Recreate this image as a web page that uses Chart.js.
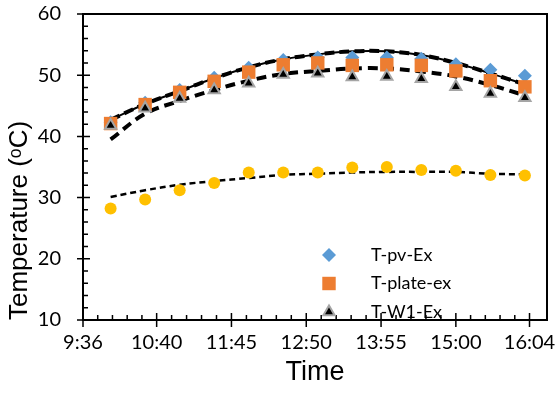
<!DOCTYPE html>
<html>
<head>
<meta charset="utf-8">
<script src="https://cdn.jsdelivr.net/npm/chart.js@4.4.0/dist/chart.umd.min.js"></script>
<style>
  html, body { margin: 0; padding: 0; background: #fff; }
</style>
</head>
<body>
<canvas id="myChart" width="558" height="398"></canvas>
<script>
// measurement times (every 30 min)
const times = ["10:00", "10:30", "11:00", "11:30", "12:00", "12:30", "13:00",
               "13:30", "14:00", "14:30", "15:00", "15:30", "16:00"];

const tPv    = [42.3, 45.5, 47.6, 49.6, 51.2, 52.5, 52.9, 52.9, 52.9, 52.7, 51.8, 50.9, 49.9];
const tPlate = [42.1, 45.2, 47.2, 49.0, 50.5, 51.7, 52.0, 51.6, 51.7, 51.6, 50.7, 49.1, 48.1];
const tW1    = [41.8, 44.6, 46.2, 47.6, 48.7, 50.1, 50.3, 49.7, 49.8, 49.4, 48.1, 47.0, 46.3];
const tAmb   = [28.2, 29.7, 31.2, 32.4, 34.1, 34.1, 34.1, 34.9, 35.0, 34.5, 34.4, 33.7, 33.6];

// trend lines
const trendTop   = [42.7, 45.3, 47.4, 49.5, 51.3, 52.6, 53.4, 53.9, 53.9, 53.3, 52.0, 50.3, 48.5];
const trendMid   = [39.5, 43.7, 45.8, 47.6, 49.1, 50.2, 50.7, 51.1, 51.1, 50.6, 49.8, 48.4, 46.7];
const trendAmb   = [30.1, 31.2, 32.1, 32.7, 33.2, 33.7, 33.9, 34.1, 34.2, 34.2, 34.2, 33.9, 33.8];

const xTickLabels = ["9:36", "10:40", "11:45", "12:50", "13:55", "15:00", "16:04"];
const yTicks = [10, 20, 30, 40, 50, 60];
const seriesNames = ["T-pv-Ex", "T-plate-ex", "T-W1-Ex"];

function toMin(t) {
  const p = t.split(":");
  return Number(p[0]) * 60 + Number(p[1]);
}
const xs = times.map(toMin);
const pts = arr => arr.map((v, i) => ({ x: xs[i], y: v }));

function fmt(v) {
  const m = Math.floor(v + 0.001);
  return Math.floor(m / 60) + ":" + String(m % 60).padStart(2, "0");
}

// cross ticks (major) + inside ticks (minor), plus top/right frame
const axisMarks = {
  id: "axisMarks",
  afterDraw(chart) {
    const { ctx, chartArea: a } = chart;
    const sx = chart.scales.x, sy = chart.scales.y;
    ctx.save();
    ctx.strokeStyle = "#000";
    ctx.lineWidth = 2;
    ctx.beginPath();
    ctx.moveTo(a.left, a.top);
    ctx.lineTo(a.right, a.top);
    ctx.lineTo(a.right, a.bottom);
    ctx.stroke();

    ctx.lineWidth = 1.5;
    ctx.beginPath();
    const xv = sx.ticks.map(t => t.value);
    xv.forEach((v, i) => {
      const px = sx.getPixelForValue(v);
      ctx.moveTo(px, a.bottom - 7);
      ctx.lineTo(px, a.bottom + 7);
      if (i < xv.length - 1) {
        const step = (xv[i + 1] - v) / 5;
        for (let k = 1; k < 5; k++) {
          const mx = sx.getPixelForValue(v + k * step);
          ctx.moveTo(mx, a.bottom);
          ctx.lineTo(mx, a.bottom - 5);
        }
      }
    });
    const yv = sy.ticks.map(t => t.value);
    yv.forEach((v, i) => {
      const py = sy.getPixelForValue(v);
      ctx.moveTo(a.left - 6, py);
      ctx.lineTo(a.left + 7, py);
      if (i < yv.length - 1) {
        const step = (yv[i + 1] - v) / 5;
        for (let k = 1; k < 5; k++) {
          const my = sy.getPixelForValue(v + k * step);
          ctx.moveTo(a.left, my);
          ctx.lineTo(a.left + 5, my);
        }
      }
    });
    ctx.stroke();
    ctx.restore();
  }
};

// legend box inside the plot
const legendBox = {
  id: "legendBox",
  afterDraw(chart) {
    const ctx = chart.ctx;
    const rows = [255, 283.5, 312];
    ctx.save();
    ctx.font = "18px Lato";
    ctx.textBaseline = "middle";
    seriesNames.forEach((name, i) => {
      const ds = chart.data.datasets[2 - i];
      ctx.fillStyle = ds.backgroundColor;
      ctx.strokeStyle = ds.borderColor || ds.backgroundColor;
      ctx.lineWidth = ds.pointBorderWidth || 0;
      Chart.helpers.drawPoint(ctx, {
        pointStyle: ds.pointStyle,
        radius: ds.pointRadius,
        borderWidth: ds.pointBorderWidth || 0,
        rotation: 0
      }, 329, rows[i]);
      ctx.fillStyle = "#000";
      ctx.fillText(name, 371, rows[i]);
    });
    ctx.restore();
  }
};

const trend = (data, width, dash, order) => ({
  type: "line",
  data: pts(data),
  borderColor: "#000",
  borderWidth: width,
  borderDash: dash,
  pointRadius: 0,
  tension: 0.4,
  fill: false,
  order: order
});

new Chart("myChart", {
  type: "scatter",
  data: {
    datasets: [
      { label: seriesNames[2], data: pts(tW1), pointStyle: "triangle", pointRadius: 6.5,
        backgroundColor: "#000", borderColor: "#a5a5a5", pointBorderWidth: 2, borderWidth: 2, order: 1 },
      { label: seriesNames[1], data: pts(tPlate), pointStyle: "rect", pointRadius: 9.5,
        backgroundColor: "#ed7d31", borderColor: "#ed7d31", pointBorderWidth: 0, borderWidth: 0, order: 2 },
      { label: seriesNames[0], data: pts(tPv), pointStyle: "rectRot", pointRadius: 7,
        backgroundColor: "#5b9bd5", borderColor: "#5b9bd5", pointBorderWidth: 0, borderWidth: 0, order: 3 },
      { label: "T-amb", data: pts(tAmb), pointStyle: "circle", pointRadius: 6,
        backgroundColor: "#ffc000", borderColor: "#ffc000", pointBorderWidth: 0, borderWidth: 0, order: 4 },
      trend(trendTop, 2, [], 5),
      trend(trendTop, 4, [10, 5], 6),
      trend(trendMid, 4, [10, 6], 7),
      trend(trendAmb, 2.5, [6, 4], 8)
    ]
  },
  options: {
    responsive: false,
    animation: false,
    events: [],
    layout: { padding: { top: 14, right: 11, left: 0, bottom: 0 } },
    plugins: { legend: { display: false }, tooltip: { enabled: false } },
    scales: {
      x: {
        type: "linear",
        min: 576,
        max: 979.2,
        afterBuildTicks: s => { s.ticks = xTickLabels.map(l => ({ value: toMin(l) })); },
        afterFit: s => { s.height = 78; s.paddingLeft = 0; s.paddingRight = 0; },
        grid: { display: false, drawTicks: false },
        border: { display: true, color: "#000", width: 2 },
        ticks: { callback: v => fmt(v), color: "#000", font: { family: "Lato", size: 20 }, padding: 11, maxRotation: 0, autoSkip: false },
        title: { display: true, text: "Time", color: "#000", font: { family: "Liberation Sans", size: 27 }, padding: { top: 0, bottom: 9 } }
      },
      y: {
        min: 10,
        max: 60,
        afterBuildTicks: s => { s.ticks = yTicks.map(v => ({ value: v })); },
        afterFit: s => { s.width = 83; s.paddingTop = 0; s.paddingBottom = 0; },
        grid: { display: false, drawTicks: false },
        border: { display: true, color: "#000", width: 2 },
        ticks: { color: "#000", font: { family: "Lato", size: 20 }, padding: 22 },
        title: { display: true, text: "Temperature (ᵒC)", align: "start", color: "#000", font: { family: "Liberation Sans", size: 26 }, padding: { top: 4, bottom: 0 } }
      }
    }
  },
  plugins: [axisMarks, legendBox]
});
</script>
</body>
</html>
